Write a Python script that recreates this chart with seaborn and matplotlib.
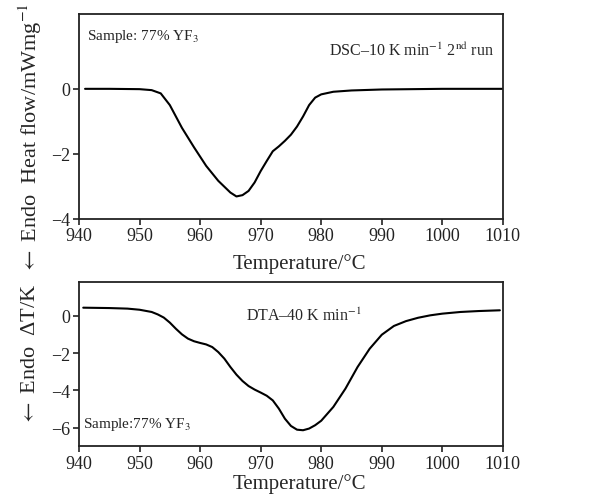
import matplotlib
matplotlib.use("Agg")
import matplotlib.pyplot as plt
import seaborn as sns

# DSC curve (top panel)
dsc_temp = [941, 945, 950, 952, 953.5, 955, 957, 959, 961, 963, 965, 966, 967, 968, 969,
            970, 971, 972, 973, 974, 975, 976, 977, 978, 979, 980, 982, 985, 990, 1000, 1010]
dsc_heat = [0.0, 0.0, -0.01, -0.04, -0.14, -0.5, -1.2, -1.8, -2.37, -2.83, -3.19, -3.31, -3.27, -3.14, -2.88,
            -2.53, -2.22, -1.92, -1.77, -1.6, -1.41, -1.16, -0.85, -0.5, -0.27, -0.17, -0.09, -0.05, -0.02, 0.0, 0.0]

# DTA curve (bottom panel)
dta_temp = [940.7, 945, 948, 950, 952, 953, 954, 955, 956, 957, 958, 959, 960, 961, 962, 963, 964, 965,
            966, 967, 968, 969, 970, 971, 972, 973, 974, 975, 976, 977, 978, 979, 980, 982, 984, 986,
            988, 990, 992, 994, 996, 998, 1000, 1003, 1006, 1009.5]
dta_dt = [0.43, 0.41, 0.38, 0.32, 0.2, 0.07, -0.1, -0.37, -0.7, -1.0, -1.23, -1.37, -1.46, -1.54, -1.68, -1.95, -2.3, -2.75,
          -3.16, -3.5, -3.77, -3.96, -4.12, -4.29, -4.54, -4.98, -5.52, -5.91, -6.11, -6.14, -6.05, -5.87, -5.63, -4.89, -3.91, -2.75,
          -1.77, -1.02, -0.55, -0.29, -0.11, 0.02, 0.11, 0.2, 0.25, 0.29]

x_ticks = [940, 950, 960, 970, 980, 990, 1000, 1010]

sns.set_theme(style="ticks")
plt.rcParams["font.family"] = ["Liberation Serif", "DejaVu Serif"]
plt.rcParams["mathtext.fontset"] = "stix"

fig = plt.figure(figsize=(6.03, 5.02), dpi=100)
ax1 = fig.add_axes([0.131, 0.562, 0.703, 0.408])
ax2 = fig.add_axes([0.131, 0.109, 0.703, 0.327])

sns.lineplot(x=dsc_temp, y=dsc_heat, ax=ax1, color="black", linewidth=1.5)
sns.lineplot(x=dta_temp, y=dta_dt, ax=ax2, color="black", linewidth=1.5)

for ax in (ax1, ax2):
    ax.set_xlim(940, 1010)
    ax.set_xticks(x_ticks)
    ax.tick_params(direction="out", length=4, width=1.2, labelsize=13, pad=2, colors="#222222")
    for s in ax.spines.values():
        s.set_linewidth(1.3)
        s.set_color("#222222")
    ax.set_xlabel("Temperature/°C", fontsize=15, labelpad=0)
    ax.xaxis.set_label_coords(0.52, -0.165 if ax is ax1 else -0.165)

ax1.set_ylim(-4, 2.3)
ax1.set_yticks([0, -2, -4])
ax2.set_ylim(-7, 1.8)
ax2.set_yticks([0, -2, -4, -6])

ax1.text(0.02, 0.88, "Sample: 77% YF$_3$", transform=ax1.transAxes, fontsize=11)
ax1.text(0.98, 0.80, "DSC–10 K min$^{-1}$ 2$^{\\mathrm{nd}}$ run", transform=ax1.transAxes,
         fontsize=11.5, ha="right")
ax2.text(0.53, 0.77, "DTA–40 K min$^{-1}$", transform=ax2.transAxes, fontsize=11.5, ha="center")
ax2.text(0.01, 0.12, "Sample:77% YF$_3$", transform=ax2.transAxes, fontsize=11)

fig.text(0.05, 0.725, "$\\leftarrow$ Endo  Heat flow/mWmg$^{-1}$", rotation=90, ha="center", va="center", fontsize=16)
fig.text(0.05, 0.293, "$\\leftarrow$ Endo  ΔT/K", rotation=90, ha="center", va="center", fontsize=16)

fig.savefig("out.png", dpi=100)
